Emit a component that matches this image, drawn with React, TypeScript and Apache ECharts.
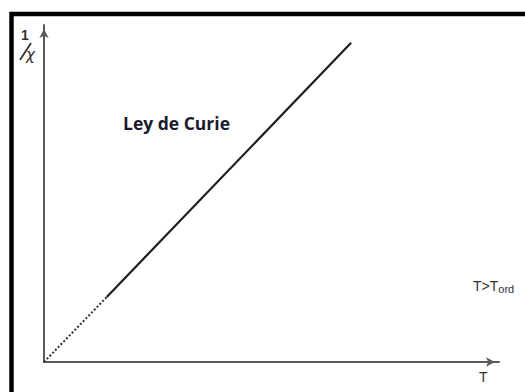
import React, { useEffect, useRef } from "react";
import * as echarts from "echarts";

// Temperature (T) and inverse susceptibility (1/χ) in arbitrary units
const dottedT = [0, 13.8];
const dottedInvChi = [0, 19.3];
const solidT = [13.8, 67.5];
const solidInvChi = [19.3, 94.7];

const toPairs = (xs: number[], ys: number[]) => xs.map((x, i) => [x, ys[i]]);

export default function App() {
  const ref = useRef<HTMLDivElement>(null);

  useEffect(() => {
    if (!ref.current) return;
    const chart = echarts.init(ref.current, undefined, { renderer: "svg" });
    const axisColor = "#5a5a5a";
    const textColor = "#333333";
    chart.setOption({
      animation: false,
      backgroundColor: "#ffffff",
      grid: { left: 44, right: 26, top: 25, bottom: 30 },
      xAxis: {
        type: "value",
        min: 0,
        max: 100,
        axisLine: {
          show: true,
          symbol: ["none", "arrow"],
          symbolSize: [7, 9],
          symbolOffset: [0, -4],
          lineStyle: { color: axisColor, width: 2 },
        },
        axisTick: { show: false },
        axisLabel: { show: false },
        splitLine: { show: false },
      },
      yAxis: {
        type: "value",
        min: 0,
        max: 100,
        axisLine: {
          show: true,
          symbol: ["none", "arrow"],
          symbolSize: [7, 9],
          symbolOffset: [0, -4],
          lineStyle: { color: axisColor, width: 2 },
        },
        axisTick: { show: false },
        axisLabel: { show: false },
        splitLine: { show: false },
      },
      series: [
        {
          type: "line",
          data: toPairs(dottedT, dottedInvChi),
          showSymbol: false,
          lineStyle: { color: "#333333", width: 2, type: [2, 2] },
        },
        {
          type: "line",
          data: toPairs(solidT, solidInvChi),
          showSymbol: false,
          lineStyle: { color: "#1e1e1e", width: 2.2 },
        },
      ],
      graphic: [
        {
          type: "rect",
          shape: { x: 11.5, y: 14, width: 600, height: 500 },
          style: { fill: "none", stroke: "#000000", lineWidth: 4.5 },
          silent: true,
        },
        {
          type: "text",
          x: 21,
          y: 28,
          style: {
            text: "1",
            font: "bold 14px 'Liberation Sans', Arial, sans-serif",
            fill: textColor,
          },
        },
        {
          type: "line",
          shape: { x1: 20, y1: 60, x2: 31, y2: 43 },
          style: { stroke: textColor, lineWidth: 1.8 },
        },
        {
          type: "text",
          x: 26,
          y: 47,
          style: {
            text: "χ",
            font: "italic 15px 'DejaVu Sans', sans-serif",
            fill: textColor,
          },
        },
        {
          type: "text",
          x: 123,
          y: 114,
          style: {
            text: "Ley de Curie",
            font: "bold 17.5px 'Open Sans', 'Noto Sans', sans-serif",
            fill: "#1a1a2e",
          },
        },
        {
          type: "text",
          x: 479,
          y: 370,
          style: {
            text: "T",
            font: "14px 'Liberation Sans', Arial, sans-serif",
            fill: textColor,
          },
        },
        {
          type: "text",
          x: 473,
          y: 277,
          style: {
            text: "{a|T>T}{b|ord}",
            rich: {
              a: {
                font: "14px 'Liberation Sans', Arial, sans-serif",
                fill: textColor,
              },
              b: {
                font: "11px 'Liberation Sans', Arial, sans-serif",
                fill: textColor,
                verticalAlign: "bottom",
                padding: [6, 0, 0, 0],
              },
            },
          },
        },
      ],
    });
    return () => chart.dispose();
  }, []);

  return (
    <div
      ref={ref}
      style={{ position: "fixed", left: 0, top: 0, width: 525, height: 392 }}
    />
  );
}
